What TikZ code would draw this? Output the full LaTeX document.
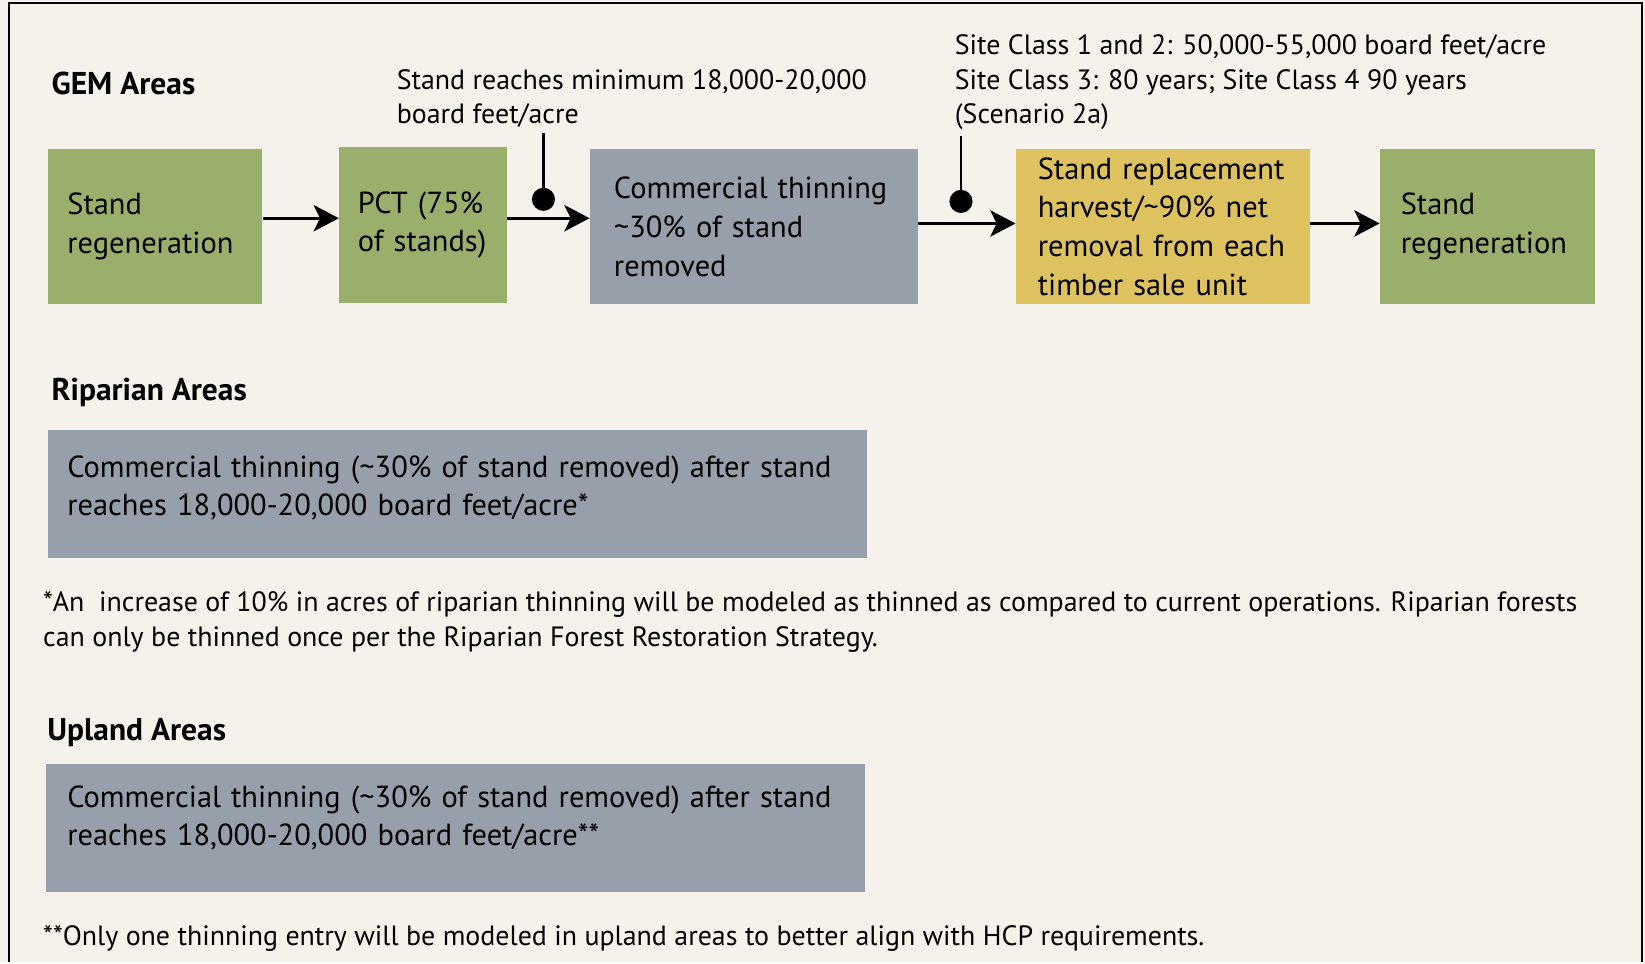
\documentclass[tikz,border=0pt]{standalone}
\usepackage{fontspec}
\setmainfont{PT Sans}
\usetikzlibrary{arrows.meta,positioning}
\definecolor{bgpaper}{RGB}{244,242,235}
\definecolor{regengreen}{RGB}{154,175,107}
\definecolor{thingray}{RGB}{151,159,170}
\definecolor{harvestyellow}{RGB}{222,194,96}

\begin{document}
\begin{tikzpicture}[x=1pt,y=-1pt,
  stagebox/.style={anchor=west,inner ysep=0pt,align=left,font=\fontsize{29}{37}\selectfont},
  note/.style={anchor=base west,inner sep=0pt,align=left,font=\fontsize{26.6}{33}\selectfont},
  heading/.style={anchor=base west,inner sep=0pt,font=\fontsize{30}{33}\selectfont\bfseries},
  flow/.style={line width=3pt,-{Stealth[length=24pt,width=25pt,inset=6pt]}},
  pinline/.style={line width=2.5pt},
  pindot/.style={circle,fill=black,inner sep=0pt,minimum size=22pt}]

\fill[bgpaper] (0,0) rectangle (1568,917);
\draw[line width=2pt] (9,917) -- (9,3) -- (1565,3) -- (1565,917);

% GEM areas
\node[heading] (gem) at (49,90) {GEM Areas};
\node[stagebox,fill=regengreen,inner xsep=18pt,text width=168pt,minimum height=148pt] (regen1) at (46,216) {Stand\\regeneration};
\node[stagebox,fill=regengreen,inner xsep=18pt,text width=124pt,minimum height=149pt] (pct) at (323,214.5) {PCT (75\%\\of stands)};
\node[stagebox,fill=thingray,inner xsep=23pt,text width=267pt,minimum height=148pt] (thin) at (562,216) {Commercial thinning\\\textasciitilde30\% of stand\\removed};
\node[stagebox,fill=harvestyellow,inner xsep=21pt,text width=238pt,minimum height=148pt] (replace) at (968,216) {Stand replacement\\harvest/\textasciitilde90\% net\\removal from each\\timber sale unit};
\node[stagebox,fill=regengreen,inner xsep=20pt,text width=165pt,minimum height=148pt] (regen2) at (1315,216) {Stand\\regeneration};

\draw[flow] ([yshift=8pt]regen1.east) -- ([yshift=8pt]regen1.east -| pct.west);
\draw[flow] ([yshift=6.5pt]pct.east) -- ([yshift=6.5pt]pct.east -| thin.west);
\draw[flow] ([yshift=3pt]thin.east) -- ([yshift=3pt]thin.east -| replace.west);
\draw[flow] ([yshift=3pt]replace.east) -- ([yshift=3pt]replace.east -| regen2.west);

\node[note] (cut1) at (378,118) {Stand reaches minimum 18,000-20,000\\board feet/acre};
\node[note] (cut2) at (910,118) {Site Class 1 and 2: 50,000-55,000 board feet/acre\\Site Class 3: 80 years; Site Class 4 90 years\\(Scenario 2a)};
\coordinate (pin1top) at (518,127);
\node[pindot] (pin1) at (518,190) {};
\draw[pinline] (pin1top) -- (pin1);
\coordinate (pin2top) at (916,130);
\node[pindot] (pin2) at (916,192) {};
\draw[pinline] (pin2top) -- (pin2);

% riparian areas
\node[heading] (rip) at (49,382) {Riparian Areas};
\node[stagebox,fill=thingray,inner xsep=18pt,text width=744pt,minimum height=122pt,text depth=53pt] (ripthin) at (46,471) {Commercial thinning (\textasciitilde30\% of stand removed) after stand\\reaches 18,000-20,000 board feet/acre*};
\node[note] (ripnote) at (41,616) {*An\ \ increase of 10\% in acres of riparian thinning will be modeled as thinned as compared to current operations. Riparian forests\\can only be thinned once per the Riparian Forest Restoration Strategy.};

% upland areas
\node[heading] (upl) at (45,706) {Upland Areas};
\node[stagebox,fill=thingray,inner xsep=20pt,text width=740pt,minimum height=122pt,text depth=60pt] (uplthin) at (44,789) {Commercial thinning (\textasciitilde30\% of stand removed) after stand\\reaches 18,000-20,000 board feet/acre**};
\node[note] (uplnote) at (41,901) {**Only one thinning entry will be modeled in upland areas to better align with HCP requirements.};
\end{tikzpicture}
\end{document}
